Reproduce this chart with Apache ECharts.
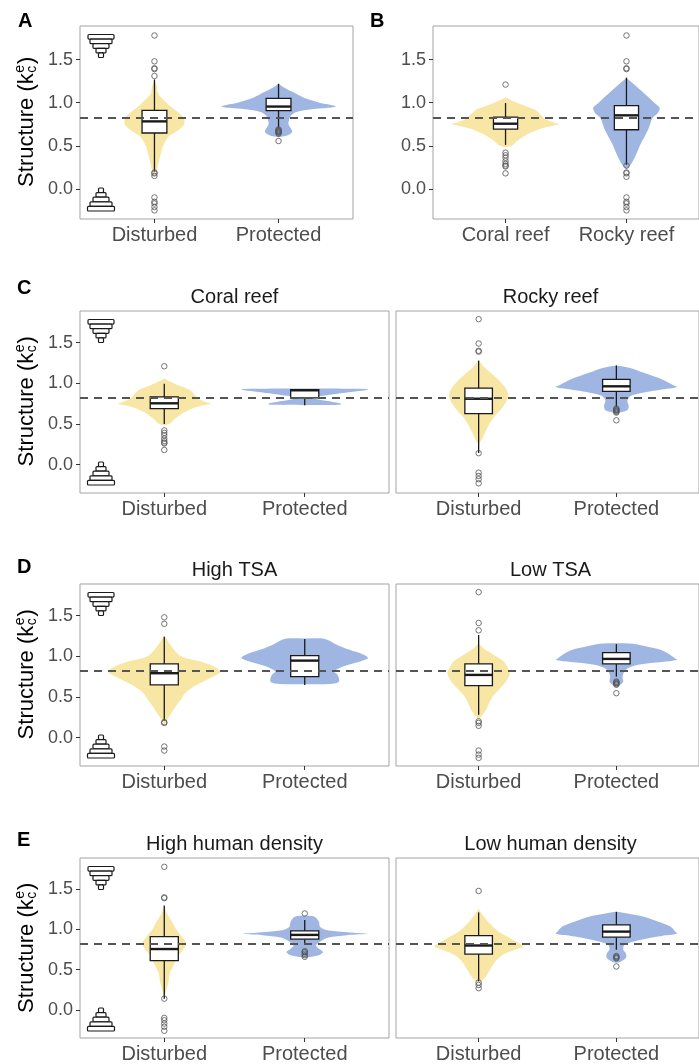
<!DOCTYPE html>
<html style="height: 100%">
<head>
    <meta charset="UTF-8">
    <title>Structure (kce) by protection status</title>
</head>
<body style="height: 100%; margin: 0; background: #fff">
    <div id="container" style="width: 699px; height: 1064px"></div>

    <script src="https://cdn.jsdelivr.net/npm/echarts@6/dist/echarts.min.js"></script>

    <script type="text/javascript">
        var treatLabels = ['Disturbed', 'Protected'];
        var habitatLabels = ['Coral reef', 'Rocky reef'];
        var yTicks = [0, 0.5, 1.0, 1.5];
        var refValue = 0.82;

        // violin outlines, [structure value, half width in x units]
        var vA_dist = [[1.26,0],[1.2,0.016],[1.1,0.032],[1.0,0.097],[0.95,0.135],[0.9,0.18],[0.85,0.22],[0.8,0.24],[0.75,0.24],[0.7,0.21],[0.65,0.16],[0.6,0.11],[0.5,0.07],[0.4,0.05],[0.3,0.032],[0.2,0.016],[0.17,0]];
        var vA_prot = [[1.22,0],[1.18,0.04],[1.12,0.12],[1.06,0.2],[1.0,0.33],[0.96,0.46],[0.94,0.4],[0.92,0.25],[0.89,0.14],[0.85,0.1],[0.8,0.085],[0.75,0.08],[0.7,0.1],[0.66,0.11],[0.62,0.07],[0.6,0]];
        var vB_coral = [[1.06,0],[1.02,0.06],[0.98,0.13],[0.92,0.24],[0.86,0.29],[0.81,0.33],[0.77,0.4],[0.75,0.445],[0.73,0.38],[0.69,0.27],[0.64,0.19],[0.6,0.14],[0.55,0.09],[0.51,0.06],[0.48,0]];
        var vB_rocky = [[1.29,0],[1.24,0.04],[1.13,0.13],[1.0,0.23],[0.94,0.275],[0.88,0.26],[0.82,0.215],[0.69,0.18],[0.53,0.12],[0.37,0.07],[0.27,0.03],[0.23,0]];
        var vC_coral_dist = [[1.06,0],[1.02,0.045],[0.98,0.095],[0.92,0.18],[0.86,0.215],[0.81,0.245],[0.77,0.295],[0.75,0.33],[0.73,0.28],[0.69,0.2],[0.64,0.14],[0.6,0.105],[0.55,0.067],[0.51,0.045],[0.48,0]];
        var vC_coral_prot = [[0.935,0],[0.93,0.44],[0.92,0.45],[0.9,0.36],[0.87,0.22],[0.84,0.1],[0.82,0.06],[0.8,0.1],[0.77,0.2],[0.75,0.26],[0.735,0.24],[0.73,0]];
        var vC_rocky_dist = [[1.28,0],[1.2,0.04],[1.05,0.14],[0.93,0.2],[0.83,0.214],[0.69,0.167],[0.56,0.1],[0.42,0.054],[0.3,0.02],[0.25,0]];
        var vC_rocky_prot = [[1.22,0],[1.19,0.1],[1.13,0.2],[1.05,0.33],[0.98,0.41],[0.955,0.44],[0.93,0.36],[0.9,0.24],[0.85,0.11],[0.79,0.08],[0.72,0.09],[0.67,0.08],[0.63,0]];
        var vD_high_dist = [[1.26,0],[1.15,0.04],[1.0,0.12],[0.93,0.27],[0.86,0.37],[0.81,0.4],[0.77,0.37],[0.71,0.3],[0.63,0.21],[0.55,0.15],[0.45,0.11],[0.38,0.08],[0.3,0.05],[0.22,0.02],[0.16,0]];
        var vD_high_prot = [[1.22,0],[1.215,0.14],[1.15,0.22],[1.08,0.32],[1.02,0.42],[0.98,0.45],[0.94,0.4],[0.89,0.3],[0.84,0.23],[0.81,0.21],[0.78,0.23],[0.72,0.245],[0.68,0.24],[0.66,0.18],[0.655,0]];
        var vD_low_dist = [[1.16,0],[1.1,0.035],[1.06,0.07],[0.94,0.18],[0.85,0.215],[0.79,0.226],[0.72,0.21],[0.66,0.185],[0.58,0.14],[0.5,0.1],[0.42,0.075],[0.34,0.054],[0.26,0.02],[0.22,0]];
        var vD_low_prot = [[1.16,0],[1.155,0.12],[1.12,0.22],[1.08,0.32],[1.02,0.39],[0.97,0.43],[0.955,0.44],[0.93,0.33],[0.9,0.17],[0.86,0.09],[0.82,0.06],[0.75,0.045],[0.69,0.05],[0.65,0.03],[0.63,0]];
        var vE_high_dist = [[1.3,0],[1.2,0.02],[1.08,0.06],[1.0,0.085],[0.9,0.13],[0.83,0.155],[0.75,0.135],[0.67,0.1],[0.55,0.065],[0.46,0.04],[0.35,0.03],[0.25,0.015],[0.14,0]];
        var vE_high_prot = [[1.17,0],[1.16,0.07],[1.1,0.1],[1.03,0.11],[0.99,0.16],[0.96,0.35],[0.946,0.45],[0.93,0.3],[0.9,0.17],[0.86,0.12],[0.8,0.08],[0.76,0.1],[0.72,0.13],[0.68,0.1],[0.65,0]];
        var vE_low_dist = [[1.26,0],[1.18,0.03],[1.08,0.077],[0.98,0.14],[0.92,0.2],[0.85,0.27],[0.79,0.32],[0.74,0.25],[0.69,0.18],[0.62,0.13],[0.55,0.1],[0.48,0.075],[0.42,0.054],[0.36,0.02],[0.34,0]];
        var vE_low_prot = [[1.22,0],[1.2,0.08],[1.16,0.2],[1.1,0.3],[1.04,0.39],[0.97,0.43],[0.946,0.44],[0.92,0.33],[0.87,0.17],[0.81,0.06],[0.75,0.05],[0.7,0.07],[0.65,0.07],[0.6,0.03],[0.585,0]];

        // boxes: [lower whisker, q1, median, q3, upper whisker]
        var bA_dist = [0.20, 0.648, 0.783, 0.91, 1.27];
        var bA_prot = [0.70, 0.907, 0.955, 1.05, 1.22];
        var bB_coral = [0.51, 0.694, 0.756, 0.833, 0.996];
        var bB_rocky = [0.28, 0.686, 0.853, 0.965, 1.29];
        var bC_coral_dist = [0.50, 0.689, 0.754, 0.832, 0.996];
        var bC_coral_prot = [0.73, 0.82, 0.914, 0.922, 0.93];
        var bC_rocky_dist = [0.143, 0.627, 0.81, 0.942, 1.28];
        var bC_rocky_prot = [0.71, 0.90, 0.963, 1.049, 1.22];
        var bD_high_dist = [0.21, 0.648, 0.792, 0.906, 1.242];
        var bD_high_prot = [0.648, 0.75, 0.947, 1.009, 1.214];
        var bD_low_dist = [0.279, 0.64, 0.771, 0.906, 1.263];
        var bD_low_prot = [0.75, 0.906, 0.968, 1.046, 1.15];
        var bE_high_dist = [0.14, 0.613, 0.757, 0.912, 1.30];
        var bE_high_prot = [0.818, 0.88, 0.933, 0.983, 1.118];
        var bE_low_dist = [0.357, 0.695, 0.801, 0.925, 1.213];
        var bE_low_prot = [0.748, 0.905, 0.974, 1.057, 1.22];

        // outliers
        var oA_dist = [1.78, 1.48, 1.40, 1.39, 1.31, 0.19, 0.18, 0.15, -0.10, -0.15, -0.17, -0.21, -0.25];
        var oA_prot = [0.69, 0.68, 0.67, 0.665, 0.66, 0.65, 0.64, 0.555];
        var oB_coral = [1.21, 0.42, 0.39, 0.36, 0.32, 0.29, 0.27, 0.26, 0.18];
        var oB_rocky = [1.78, 1.48, 1.40, 1.39, 0.27, 0.19, 0.18, 0.14, -0.10, -0.15, -0.17, -0.21, -0.25];
        var oC_coral_dist = [1.21, 0.42, 0.39, 0.36, 0.32, 0.29, 0.27, 0.26, 0.18];
        var oC_coral_prot = [];
        var oC_rocky_dist = [1.79, 1.49, 1.40, 1.39, 0.14, -0.10, -0.14, -0.18, -0.23];
        var oC_rocky_prot = [0.69, 0.68, 0.67, 0.66, 0.65, 0.64, 0.545];
        var oD_high_dist = [1.48, 1.40, 0.19, 0.18, -0.11, -0.16];
        var oD_high_prot = [];
        var oD_low_dist = [1.79, 1.41, 1.32, 0.20, 0.18, 0.145, -0.16, -0.21, -0.25];
        var oD_low_prot = [0.69, 0.68, 0.67, 0.66, 0.65, 0.546];
        var oE_high_dist = [1.78, 1.40, 1.39, 0.14, -0.10, -0.13, -0.17, -0.21, -0.26];
        var oE_high_prot = [1.20, 0.73, 0.72, 0.70, 0.68, 0.66];
        var oE_low_dist = [1.48, 0.34, 0.31, 0.27];
        var oE_low_prot = [0.67, 0.66, 0.65, 0.64, 0.54];

        var YELLOW = '#f8e6a5';
        var BLUE = '#a0b6e2';
        var FONT = '"Liberation Sans", Arial, sans-serif';

        var panels = [
            {grid: [80, 26, 273, 193], labels: treatLabels, v: [vA_dist, vA_prot], b: [bA_dist, bA_prot], o: [oA_dist, oA_prot], yLab: true, icons: true},
            {grid: [433, 26, 273, 193], labels: habitatLabels, v: [vB_coral, vB_rocky], b: [bB_coral, bB_rocky], o: [oB_coral, oB_rocky], yLab: true, icons: false},
            {grid: [80, 311, 309, 182], labels: treatLabels, v: [vC_coral_dist, vC_coral_prot], b: [bC_coral_dist, bC_coral_prot], o: [oC_coral_dist, oC_coral_prot], yLab: true, icons: true, title: 'Coral reef'},
            {grid: [396, 311, 309, 182], labels: treatLabels, v: [vC_rocky_dist, vC_rocky_prot], b: [bC_rocky_dist, bC_rocky_prot], o: [oC_rocky_dist, oC_rocky_prot], yLab: false, icons: false, title: 'Rocky reef'},
            {grid: [80, 584, 309, 182], labels: treatLabels, v: [vD_high_dist, vD_high_prot], b: [bD_high_dist, bD_high_prot], o: [oD_high_dist, oD_high_prot], yLab: true, icons: true, title: 'High TSA'},
            {grid: [396, 584, 309, 182], labels: treatLabels, v: [vD_low_dist, vD_low_prot], b: [bD_low_dist, bD_low_prot], o: [oD_low_dist, oD_low_prot], yLab: false, icons: false, title: 'Low TSA'},
            {grid: [80, 858, 309, 181], labels: treatLabels, v: [vE_high_dist, vE_high_prot], b: [bE_high_dist, bE_high_prot], o: [oE_high_dist, oE_high_prot], yLab: true, icons: true, title: 'High human density'},
            {grid: [396, 858, 309, 181], labels: treatLabels, v: [vE_low_dist, vE_low_prot], b: [bE_low_dist, bE_low_prot], o: [oE_low_dist, oE_low_prot], yLab: false, icons: false, title: 'Low human density'}
        ];

        var letters = [['A', 18, 21], ['B', 370, 21], ['C', 17, 288], ['D', 17, 567], ['E', 17, 840]];

        var mctx = document.createElement('canvas').getContext('2d');
        function textWidth(s, size) {
            mctx.font = size + 'px ' + FONT;
            return mctx.measureText(s).width;
        }

        function violinRender(profiles) {
            return function (params, api) {
                var x = api.value(0);
                var prof = profiles[params.dataIndex];
                var right = [], left = [];
                for (var i = 0; i < prof.length; i++) {
                    right.push(api.coord([x + prof[i][1], prof[i][0]]));
                    left.push(api.coord([x - prof[i][1], prof[i][0]]));
                }
                return {
                    type: 'polygon',
                    shape: {points: right.concat(left.reverse()), smooth: 0.3},
                    style: {fill: api.visual('color')}
                };
            };
        }

        function boxRender(params, api) {
            var x = api.value(0);
            var lo = api.coord([x, api.value(1)]);
            var q1 = api.coord([x, api.value(2)]);
            var md = api.coord([x, api.value(3)]);
            var q3 = api.coord([x, api.value(4)]);
            var hi = api.coord([x, api.value(5)]);
            var w = api.size([0.2, 0])[0];
            var ink = {stroke: '#1a1a1a', lineWidth: 1.3};
            return {
                type: 'group',
                children: [
                    {type: 'line', shape: {x1: lo[0], y1: lo[1], x2: q1[0], y2: q1[1]}, style: ink},
                    {type: 'line', shape: {x1: q3[0], y1: q3[1], x2: hi[0], y2: hi[1]}, style: ink},
                    {type: 'rect', shape: {x: q3[0] - w / 2, y: q3[1], width: w, height: q1[1] - q3[1]},
                        style: {fill: '#fff', stroke: '#1a1a1a', lineWidth: 1.3}},
                    {type: 'line', shape: {x1: md[0] - w / 2, y1: md[1], x2: md[0] + w / 2, y2: md[1]},
                        style: {stroke: '#1a1a1a', lineWidth: 2.4}}
                ]
            };
        }

        function yTitle(cx, cy) {
            var main = 'Structure (k', big = 22, small = 14;
            var w1 = textWidth(main, big), w2 = textWidth('e', small), w3 = textWidth(')', big);
            var x0 = -(w1 + w2 + w3) / 2;
            var st = function (t, size, x, y) {
                return {type: 'text', x: x, y: y, style: {text: t, font: size + 'px ' + FONT, fill: '#000', align: 'left', verticalAlign: 'middle'}};
            };
            return {
                type: 'group', x: cx, y: cy, rotation: Math.PI / 2, silent: true,
                children: [
                    st(main, big, x0, 0),
                    st('e', small, x0 + w1 + 0.5, -7),
                    st('c', small, x0 + w1 + 0.5, 5),
                    st(')', big, x0 + w1 + w2 + 1.5, 0)
                ]
            };
        }

        function icons(gl, gt, gh) {
            var out = [];
            var cx = gl + 21;
            var topW = [13, 11, 8, 5, 2.5];
            var botW = [2.5, 5, 8, 11, 13.5];
            for (var i = 0; i < 5; i++) {
                out.push({type: 'rect', silent: true, z: 20,
                    shape: {x: cx - topW[i], y: gt + 8.5 + i * 4.6, width: topW[i] * 2, height: 4.6, r: 1},
                    style: {fill: '#fff', stroke: '#1a1a1a', lineWidth: 1.2}});
                out.push({type: 'rect', silent: true, z: 20,
                    shape: {x: cx - botW[i], y: gt + gh - 31 + i * 4.6, width: botW[i] * 2, height: 4.6, r: 1},
                    style: {fill: '#fff', stroke: '#1a1a1a', lineWidth: 1.2}});
            }
            return out;
        }

        var grids = [], xAxes = [], yAxes = [], series = [], graphics = [];

        panels.forEach(function (p, k) {
            var g = p.grid;
            grids.push({left: g[0], top: g[1], width: g[2], height: g[3], show: true,
                borderColor: '#a3a3a3', borderWidth: 1, backgroundColor: '#fff'});
            xAxes.push({
                gridIndex: k, type: 'value', min: -0.6, max: 1.6, position: 'bottom',
                axisLine: {show: false, onZero: false}, splitLine: {show: false},
                axisTick: {show: true, customValues: [0, 1], length: 4, lineStyle: {color: '#333', width: 1}},
                axisLabel: {show: true, customValues: [0, 1], margin: 6, fontSize: 20, color: '#4d4d4d', fontFamily: FONT,
                    formatter: (function (labels) { return function (v) { return labels[Math.round(v)]; }; })(p.labels)}
            });
            yAxes.push({
                gridIndex: k, type: 'value', min: -0.35, max: 1.89, position: 'left',
                axisLine: {show: false, onZero: false}, splitLine: {show: false},
                axisTick: {show: p.yLab, customValues: yTicks, length: 4, lineStyle: {color: '#333', width: 1}},
                axisLabel: {show: p.yLab, customValues: yTicks, margin: 7, fontSize: 18, color: '#4d4d4d', fontFamily: FONT,
                    formatter: function (v) { return v.toFixed(1); }}
            });
            var cols = [YELLOW, BLUE];
            series.push({
                type: 'custom', xAxisIndex: k, yAxisIndex: k, z: 1, clip: true, silent: true,
                renderItem: violinRender(p.v),
                encode: {x: 0, y: 1},
                data: [{value: [0, 0], itemStyle: {color: cols[0]}}, {value: [1, 0], itemStyle: {color: cols[1]}}]
            });
            series.push({
                type: 'custom', xAxisIndex: k, yAxisIndex: k, z: 3, clip: true, silent: true,
                renderItem: boxRender,
                encode: {x: 0, y: [1, 2, 3, 4, 5]},
                data: [[0].concat(p.b[0]), [1].concat(p.b[1])]
            });
            var pts = [];
            p.o[0].forEach(function (y) { pts.push([0, y]); });
            p.o[1].forEach(function (y) { pts.push([1, y]); });
            series.push({
                type: 'scatter', xAxisIndex: k, yAxisIndex: k, z: 5, silent: true,
                symbol: 'circle', symbolSize: 5.5,
                itemStyle: {color: 'rgba(255,255,255,0)', borderColor: '#555', borderWidth: 1},
                data: pts,
                markLine: {silent: true, symbol: 'none', label: {show: false},
                    lineStyle: {type: [8, 6], color: '#555', width: 2},
                    data: [{yAxis: refValue}]}
            });
            if (p.icons) graphics = graphics.concat(icons(g[0], g[1], g[3]));
            if (p.icons) graphics.push(yTitle(27, g[1] + g[3] / 2));
            if (p.title) {
                graphics.push({type: 'text', x: g[0] + g[2] / 2, y: g[1] - 14, silent: true,
                    style: {text: p.title, font: '20px ' + FONT, fill: '#1a1a1a', align: 'center', verticalAlign: 'middle'}});
            }
        });

        letters.forEach(function (l) {
            graphics.push({type: 'text', x: l[1], y: l[2], silent: true,
                style: {text: l[0], font: 'bold 20px ' + FONT, fill: '#000', align: 'left', verticalAlign: 'middle'}});
        });

        var myChart = echarts.init(document.getElementById('container'));
        var option = {
            animation: false,
            backgroundColor: '#fff',
            grid: grids,
            xAxis: xAxes,
            yAxis: yAxes,
            series: series,
            graphic: graphics
        };
        myChart.setOption(option);
    </script>
</body>
</html>
